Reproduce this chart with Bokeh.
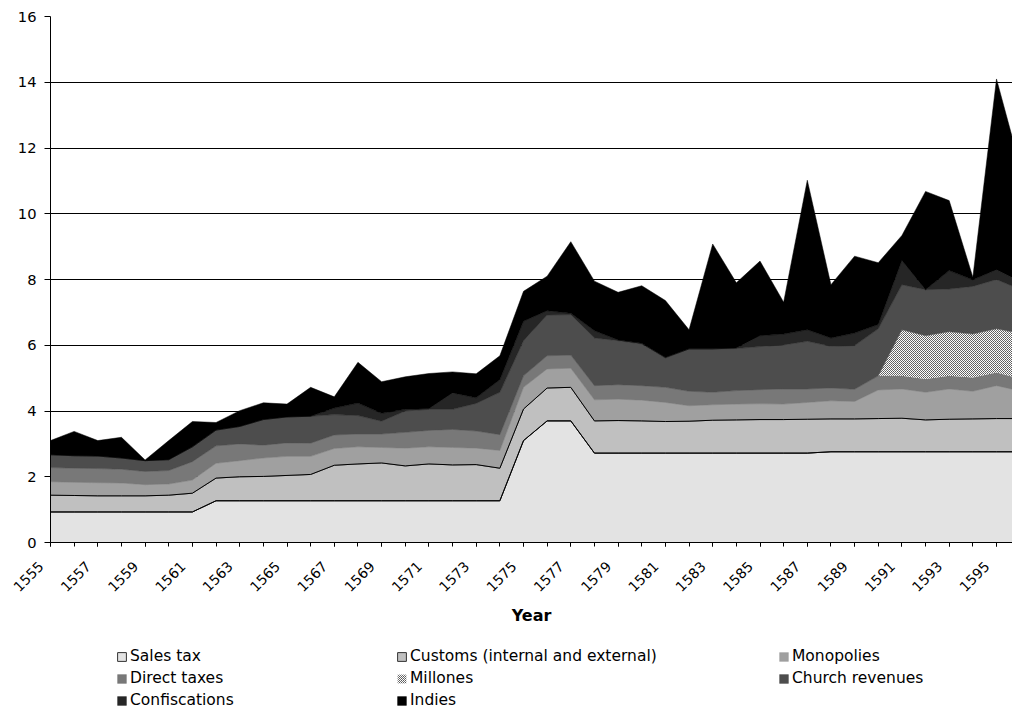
import math
import numpy as np
from bokeh.plotting import figure
from bokeh.layouts import column
from bokeh.models import Range1d, FixedTicker, Legend, LegendItem
from bokeh.embed import file_html
from bokeh.resources import INLINE

years = list(range(1555, 1597))

sales_tax = [0.93, 0.93, 0.93, 0.93, 0.93, 0.93, 0.93,
             1.27, 1.27, 1.27, 1.27, 1.27, 1.27, 1.27, 1.27, 1.27, 1.27, 1.27, 1.27, 1.27,
             3.10, 3.70, 3.70,
             2.72, 2.72, 2.72, 2.72, 2.72, 2.72, 2.72, 2.72, 2.72, 2.72,
             2.76, 2.76, 2.76, 2.76, 2.76, 2.76, 2.76, 2.76, 2.76]

customs = [0.51, 0.50, 0.49, 0.49, 0.49, 0.51, 0.57,
           0.69, 0.73, 0.74, 0.77, 0.80, 1.08, 1.12, 1.15, 1.06, 1.12, 1.09, 1.10, 0.99,
           0.96, 1.00, 1.02,
           0.98, 0.99, 0.98, 0.96, 0.97, 1.00, 1.01, 1.02, 1.02, 1.03,
           1.00, 1.00, 1.01, 1.02, 0.97, 0.99, 1.00, 1.01, 1.01]

monopolies = [0.41, 0.40, 0.40, 0.39, 0.34, 0.34, 0.40,
              0.45, 0.49, 0.56, 0.58, 0.55, 0.51, 0.52, 0.47, 0.54, 0.52, 0.53, 0.50, 0.54,
              0.66, 0.58, 0.58,
              0.64, 0.65, 0.63, 0.58, 0.47, 0.47, 0.48, 0.48, 0.47, 0.51,
              0.55, 0.53, 0.87, 0.89, 0.84, 0.92, 0.84, 1.00, 0.84]

direct_taxes = [0.43, 0.43, 0.43, 0.42, 0.40, 0.41, 0.56,
                0.53, 0.51, 0.39, 0.41, 0.40, 0.41, 0.39, 0.41, 0.48, 0.50, 0.55, 0.52, 0.48,
                0.35, 0.40, 0.40,
                0.43, 0.44, 0.44, 0.46, 0.44, 0.38, 0.41, 0.43, 0.46, 0.41,
                0.39, 0.37, 0.43, 0.40, 0.40, 0.40, 0.42, 0.40, 0.38]

millones = [0, 0, 0, 0, 0, 0, 0,
            0, 0, 0, 0, 0, 0, 0, 0, 0, 0, 0, 0, 0,
            0, 0, 0,
            0, 0, 0, 0, 0, 0, 0, 0, 0, 0,
            0, 0, 0, 1.40, 1.32, 1.34, 1.32, 1.33, 1.37]

church = [0.39, 0.38, 0.38, 0.34, 0.33, 0.33, 0.45,
          0.48, 0.53, 0.78, 0.79, 0.82, 0.62, 0.56, 0.39, 0.65, 0.64, 0.61, 0.84, 1.29,
          1.07, 1.24, 1.23,
          1.45, 1.34, 1.27, 0.89, 1.29, 1.32, 1.28, 1.31, 1.34, 1.45,
          1.27, 1.33, 1.43, 1.37, 1.40, 1.30, 1.45, 1.50, 1.34]

confiscations = [0, 0, 0, 0, 0, 0, 0,
                 0, 0, 0, 0, 0, 0.20, 0.38, 0.24, 0.05, 0.02, 0.50, 0.17, 0.38,
                 0.59, 0.13, 0.04,
                 0.22, 0.02, 0.02, 0.02, 0.00, 0.00, 0.02, 0.33, 0.33, 0.35,
                 0.25, 0.38, 0.13, 0.74, 0.00, 0.56, 0.20, 0.30, 0.24]

indies = [0.43, 0.74, 0.47, 0.63, 0.02, 0.58, 0.77,
          0.23, 0.48, 0.51, 0.39, 0.88, 0.34, 1.24, 0.96, 0.99, 1.07, 0.64, 0.73, 0.73,
          0.91, 1.05, 2.18,
          1.51, 1.45, 1.75, 1.73, 0.58, 3.19, 1.98, 2.27, 0.97, 4.55,
          1.62, 2.34, 1.88, 0.76, 2.99, 2.13, 0.08, 5.80, 3.50]

series_names = ["Sales tax", "Customs (internal and external)", "Monopolies",
                "Direct taxes", "Millones", "Church revenues", "Confiscations", "Indies"]
series_values = [sales_tax, customs, monopolies, direct_taxes, millones,
                 church, confiscations, indies]
y_ticks = [0, 2, 4, 6, 8, 10, 12, 14, 16]
label_years = list(range(1555, 1597, 2))

FONT = "DejaVu Sans"
FS = "14.7px"
LEGEND_FS = "15.5px"
NBSP = "\u00a0"
fills = ["#e3e3e3", "#c0c0c0", "#a0a0a0", "#787878", "#ffffff", "#4d4d4d", "#262626", "#000000"]


def band_style(name, col):
    kw = dict(fill_color=col, line_color=col, line_width=0.5)
    if name in ("Sales tax", "Customs (internal and external)"):
        kw["line_color"] = "#333333"
        kw["line_width"] = 1
    if name == "Millones":
        kw.update(fill_color="#ffffff", line_color=None, hatch_pattern="x",
                  hatch_scale=2, hatch_weight=1, hatch_color="#5a5a5a")
    return kw


p = figure(width=1012, height=632, output_backend="svg", toolbar_location=None,
           x_range=Range1d(1555, 1555 + 962 / 23.65), y_range=Range1d(0, 16),
           min_border_left=50, min_border_right=0, min_border_top=16,
           min_border_bottom=90)
p.outline_line_color = None
p.background_fill_color = "white"
p.border_fill_color = "white"

# stacked bands, bottom to top
x = np.array(years, dtype=float)
lower = np.zeros(len(years))
for name, vals, col in zip(series_names, series_values, fills):
    upper = lower + np.array(vals, dtype=float)
    xs = np.concatenate([x, x[::-1]])
    ys = np.concatenate([upper, lower[::-1]])
    p.patch(xs, ys, **band_style(name, col))
    lower = upper

# outline along the top of the two lowest bands
top_sales = np.array(sales_tax)
top_customs = top_sales + np.array(customs)
p.line(x, top_sales, line_color="black", line_width=1)
p.line(x, top_customs, line_color="black", line_width=1)

# y axis and horizontal grid
p.yaxis.ticker = FixedTicker(ticks=y_ticks)
p.ygrid.ticker = FixedTicker(ticks=y_ticks)
p.ygrid.grid_line_color = "black"
p.ygrid.grid_line_width = 1
p.xgrid.visible = False
p.yaxis.axis_line_color = "black"
p.yaxis.major_tick_out = 6
p.yaxis.major_tick_in = 0
p.yaxis.minor_tick_line_color = None
p.yaxis.major_label_text_font = FONT
p.yaxis.major_label_text_font_size = FS
p.yaxis.major_label_text_color = "black"
p.yaxis.major_label_standoff = 8

# x axis: a tick mark for every year, slanted labels for every second year
p.xaxis.ticker = FixedTicker(ticks=label_years, minor_ticks=years)
p.xaxis.major_label_overrides = {yr: str(yr) + NBSP * 3 for yr in label_years}
p.xaxis.axis_line_color = "black"
p.xaxis.major_tick_out = 4
p.xaxis.major_tick_in = 0
p.xaxis.minor_tick_out = 4
p.xaxis.minor_tick_in = 0
p.xaxis.minor_tick_line_color = "black"
p.xaxis.major_label_orientation = math.pi / 4
p.xaxis.major_label_text_font = FONT
p.xaxis.major_label_text_font_size = "14px"
p.xaxis.major_label_text_color = "black"
p.xaxis.major_label_standoff = 8
p.xaxis.axis_label = "Year"
p.xaxis.axis_label_text_font = FONT
p.xaxis.axis_label_text_font_style = "bold"
p.xaxis.axis_label_text_font_size = "16px"
p.xaxis.axis_label_text_color = "black"
p.xaxis.axis_label_standoff = 3

# legend strip under the chart
lg_fig = figure(width=1012, height=80, output_backend="svg", toolbar_location=None,
                x_range=Range1d(0, 1), y_range=Range1d(0, 1),
                x_axis_location=None, y_axis_location=None,
                min_border_left=0, min_border_right=0, min_border_top=0,
                min_border_bottom=0)
lg_fig.grid.visible = False
lg_fig.outline_line_color = None
lg_fig.background_fill_color = "white"
lg_fig.border_fill_color = "white"

swatches = {}
for name, col in zip(series_names, fills):
    swatches[name] = lg_fig.patch([5, 6, 6], [5, 5, 6], **band_style(name, col))

columns = [
    (["Sales tax", "Direct taxes", "Confiscations"], 66),
    (["Customs (internal and external)", "Millones", "Indies"], 346),
    (["Monopolies", "Church revenues"], 728),
]
for names, vx in columns:
    n = len(names)
    h = n * 20 + (n - 1) * 2
    vy = 80 - 14 - h
    lg = Legend(items=[LegendItem(label=nm, renderers=[swatches[nm]]) for nm in names],
                location=(vx, vy), orientation="vertical",
                glyph_width=11, glyph_height=11, label_standoff=3,
                label_height=20, spacing=2, padding=0, margin=0,
                border_line_color=None, background_fill_alpha=0,
                label_text_font=FONT, label_text_font_size=LEGEND_FS,
                label_text_color="black")
    lg_fig.add_layout(lg, "center")

layout = column(p, lg_fig, spacing=0)
open("out.html", "w").write(file_html(layout, INLINE))
